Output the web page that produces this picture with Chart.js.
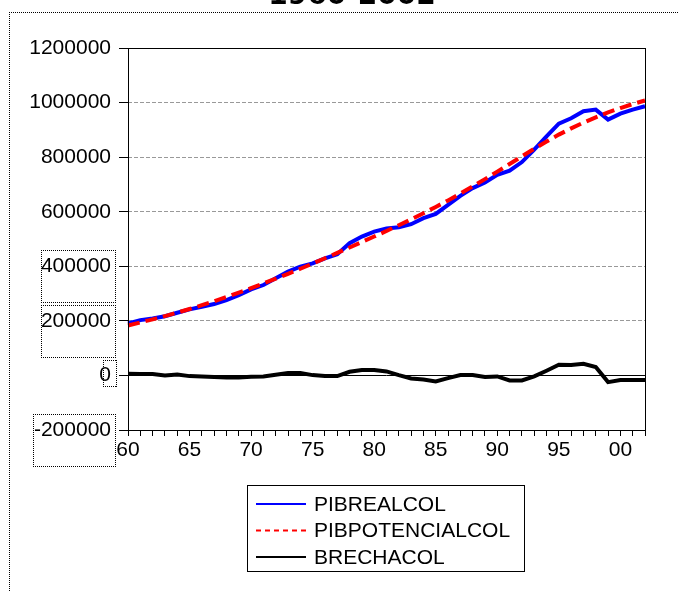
<!DOCTYPE html>
<html>
<head>
<meta charset="utf-8">
<script src="https://cdn.jsdelivr.net/npm/chart.js@4/dist/chart.umd.min.js"></script>
<style>
  body { margin: 0; background: #fff; }
  #wrap { width: 678px; height: 591px; }
</style>
</head>
<body>
<div id="wrap"><canvas id="gapChart" width="678" height="591"></canvas></div>
<script>
const years = [
  "1960", "1961", "1962", "1963", "1964", "1965", "1966", "1967", "1968", "1969",
  "1970", "1971", "1972", "1973", "1974", "1975", "1976", "1977", "1978", "1979",
  "1980", "1981", "1982", "1983", "1984", "1985", "1986", "1987", "1988", "1989",
  "1990", "1991", "1992", "1993", "1994", "1995", "1996", "1997", "1998", "1999",
  "2000", "2001", "2002"
];

const pibReal = [
  190400, 202700, 208800, 217000, 229600, 242000, 251700, 261500, 276200, 294600,
  315400, 331300, 355800, 380300, 398600, 410900, 429300, 443900, 484400, 508900,
  527300, 538300, 543200, 554200, 576200, 592200, 625200, 658300, 686500, 707300,
  735500, 750200, 782000, 827300, 876300, 922800, 942400, 968200, 974300, 937500,
  959600, 974300, 986500
];

const pibPotencial = [
  183000, 194000, 205500, 217500, 230000, 243500, 257500, 272000, 287500, 303500,
  320000, 337000, 354500, 372500, 391000, 410000, 429500, 449000, 469000, 489000,
  509000, 529500, 550500, 572000, 594500, 617500, 641500, 666500, 692500, 719500,
  747000, 775000, 803000, 830500, 857000, 882500, 905500, 926500, 946000, 964000,
  980000, 994500, 1007500
];

const brecha = [
  6100, 4900, 4900, 0, 3700, -2500, -3700, -6100, -7400, -7400,
  -4900, -3700, 2500, 8600, 8600, 1200, -2500, -2500, 13500, 19600,
  19600, 14700, 1200, -11000, -14700, -22000, -9800, 1200, 1200, -6100,
  -3700, -18400, -18400, -3700, 17200, 39300, 38000, 42900, 30700, -24500,
  -17200, -17200, -17200
];

const yTicks = [-200000, 0, 200000, 400000, 600000, 800000, 1000000, 1200000];

const FONT = '"Liberation Sans", Arial, sans-serif';

// legend entries: name, colour, dash
const legendItems = [
  ["PIBREALCOL", "#0000ff", []],
  ["PIBPOTENCIALCOL", "#ff0000", [5, 4]],
  ["BRECHACOL", "#000000", []]
];

// 1px dots every 2px, crisper than a dashed stroke
function dotH(ctx, x1, x2, y) {
  for (let x = x1; x <= x2; x += 2) ctx.fillRect(x, y, 1, 1);
}
function dotV(ctx, x, y1, y2) {
  for (let y = y1; y <= y2; y += 2) ctx.fillRect(x, y, 1, 1);
}
function dotRect(ctx, x, y, w, h) {
  dotH(ctx, x, x + w, y);
  dotH(ctx, x, x + w, y + h);
  dotV(ctx, x, y, y + h);
  dotV(ctx, x + w, y, y + h);
}

const decor = {
  id: "decor",
  beforeDraw(chart) {
    const ctx = chart.ctx;
    ctx.save();
    ctx.fillStyle = "#fff";
    ctx.fillRect(0, 0, chart.width, chart.height);
    ctx.restore();
  },
  beforeDatasetsDraw(chart) {
    // zero line
    const ctx = chart.ctx;
    const a = chart.chartArea;
    const y0 = Math.round(chart.scales.y.getPixelForValue(0)) + 0.5;
    ctx.save();
    ctx.strokeStyle = "#000";
    ctx.lineWidth = 1;
    ctx.beginPath();
    ctx.moveTo(a.left, y0);
    ctx.lineTo(a.right, y0);
    ctx.stroke();
    ctx.restore();
  },
  afterDraw(chart) {
    const ctx = chart.ctx;
    const a = chart.chartArea;
    ctx.save();

    // plot frame
    ctx.strokeStyle = "#000";
    ctx.lineWidth = 1;
    ctx.strokeRect(Math.round(a.left) + 0.5, Math.round(a.top) + 0.5,
      Math.round(a.right - a.left), Math.round(a.bottom - a.top));

    // title, cut off at the top
    ctx.fillStyle = "#000";
    ctx.font = 'bold 28px "DejaVu Sans", sans-serif';
    ctx.textAlign = "center";
    ctx.textBaseline = "alphabetic";
    ctx.fillText("1960-2002", 352, 4);

    // dotted outer frame
    dotH(ctx, 9, 678, 12);
    dotV(ctx, 9, 12, 591);

    // dotted selection boxes round some labels
    dotRect(ctx, 41, 250, 74, 52);
    dotRect(ctx, 41, 305, 74, 52);
    dotRect(ctx, 103, 360, 13, 26);
    dotRect(ctx, 33, 414, 82, 52);

    // legend
    const bx = 247.5, by = 485.5, bw = 277, bh = 86;
    ctx.strokeStyle = "#000";
    ctx.strokeRect(bx, by, bw, bh);
    ctx.font = "21px " + FONT;
    ctx.textAlign = "left";
    ctx.textBaseline = "middle";
    legendItems.forEach((it, i) => {
      const y = 504 + i * 26.5;
      ctx.strokeStyle = it[1];
      ctx.lineWidth = 2;
      ctx.setLineDash(it[2]);
      ctx.beginPath();
      ctx.moveTo(256, y);
      ctx.lineTo(306, y);
      ctx.stroke();
      ctx.setLineDash([]);
      ctx.fillStyle = "#000";
      ctx.fillText(it[0], 314, y + 1);
    });
    ctx.restore();
  }
};

new Chart(document.getElementById("gapChart"), {
  type: "line",
  data: {
    labels: years,
    datasets: [
      {
        label: "PIBPOTENCIALCOL",
        data: pibPotencial,
        borderColor: "#ff0000",
        borderWidth: 4,
        borderDash: [12, 6],
        pointRadius: 0,
        tension: 0,
        fill: false
      },
      {
        label: "PIBREALCOL",
        data: pibReal,
        borderColor: "#0000ff",
        borderWidth: 4,
        pointRadius: 0,
        tension: 0,
        fill: false
      },
      {
        label: "BRECHACOL",
        data: brecha,
        borderColor: "#000000",
        borderWidth: 4,
        pointRadius: 0,
        tension: 0,
        fill: false
      }
    ]
  },
  options: {
    responsive: false,
    animation: false,
    devicePixelRatio: 1,
    layout: { padding: { top: 48, right: 33, left: 0, bottom: 0 } },
    plugins: {
      legend: { display: false },
      title: { display: false },
      tooltip: { enabled: false }
    },
    scales: {
      x: {
        type: "category",
        offset: false,
        border: { display: false },
        grid: {
          drawOnChartArea: false,
          drawTicks: true,
          tickLength: 6,
          tickColor: "#000"
        },
        ticks: {
          autoSkip: false,
          maxRotation: 0,
          color: "#000",
          padding: 2,
          font: { family: FONT, size: 21 },
          callback: function (v, i) {
            const yr = years[i];
            return Number(yr) % 5 === 0 ? yr.slice(2) : "";
          }
        },
        afterFit: (s) => { s.height = 161; }
      },
      y: {
        min: -200000,
        max: 1200000,
        border: { display: false, dash: [4, 2] },
        grid: {
          color: (c) => {
            const v = c.tick ? c.tick.value : null;
            return (v === 0 || v === -200000 || v === 1200000) ? "rgba(0,0,0,0)" : "#999999";
          },
          lineWidth: 1,
          tickLength: 9,
          tickColor: "#000",
          tickBorderDash: []
        },
        afterBuildTicks: (s) => { s.ticks = yTicks.map(v => ({ value: v })); },
        ticks: {
          color: "#000",
          padding: 8,
          font: { family: FONT, size: 21 },
          callback: (v) => String(v)
        },
        afterFit: (s) => { s.width = 128; }
      }
    }
  },
  plugins: [decor]
});
</script>
</body>
</html>
